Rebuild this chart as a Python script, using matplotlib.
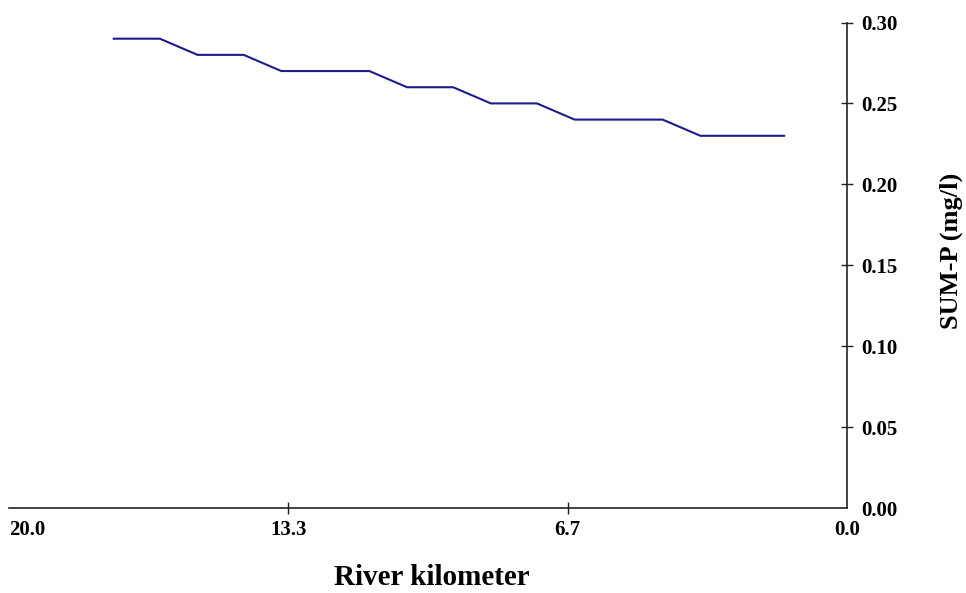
import matplotlib.pyplot as plt

# river kilometer vs SUM-P concentration
km = [17.5, 16.4, 15.5, 14.4, 13.5, 11.4, 10.5, 9.4, 8.5, 7.4, 6.5, 4.4, 3.5, 1.5]
sum_p = [0.29, 0.29, 0.28, 0.28, 0.27, 0.27, 0.26, 0.26, 0.25, 0.25, 0.24, 0.24, 0.23, 0.23]

x_ticks = [20.0, 13.333, 6.667, 0.0]
x_labels = ['20.0', '13.3', '6.7', '0.0']
y_ticks = [0.00, 0.05, 0.10, 0.15, 0.20, 0.25, 0.30]
y_labels = ['0.00', '0.05', '0.10', '0.15', '0.20', '0.25', '0.30']

plt.rcParams['font.family'] = ['Liberation Serif', 'DejaVu Serif']
plt.rcParams['font.weight'] = 'bold'

fig = plt.figure(figsize=(9.66, 5.93), dpi=100)
ax = fig.add_axes([9 / 966, 85 / 593, 838 / 966, 485.5 / 593])

ax.plot(km, sum_p, color='#1c1c8c', linewidth=1.5)

ax.set_xlim(20, 0)
ax.set_ylim(0, 0.30)

for side in ['left', 'top']:
    ax.spines[side].set_visible(False)
for side in ['bottom', 'right']:
    ax.spines[side].set_color('#222222')
    ax.spines[side].set_linewidth(1.2)

ax.yaxis.tick_right()
ax.set_xticks(x_ticks)
ax.set_xticklabels(x_labels, fontsize=15, fontweight='bold')
ax.set_yticks(y_ticks)
ax.set_yticklabels(y_labels, fontsize=15, fontweight='bold')
ax.tick_params(axis='x', direction='inout', length=9, width=1, color='#222222', pad=4)
ax.tick_params(axis='y', direction='inout', length=9, width=1, color='#222222', pad=6)

# no tick marks at the corners
xt = ax.xaxis.get_major_ticks()
xt[0].tick1line.set_visible(False)
xt[-1].tick1line.set_visible(False)
xt[0].label1.set_horizontalalignment('left')
ax.yaxis.get_major_ticks()[0].tick2line.set_visible(False)

ax.set_xlabel('River kilometer', fontsize=21, fontweight='bold', labelpad=20)
ax.xaxis.set_label_coords(0.505, -0.115)
ax.yaxis.set_label_position('right')
ax.set_ylabel('SUM-P (mg/l)', fontsize=19, fontweight='bold')
ax.yaxis.set_label_coords(1.11, 0.53)

fig.savefig('out.png', dpi=100)
